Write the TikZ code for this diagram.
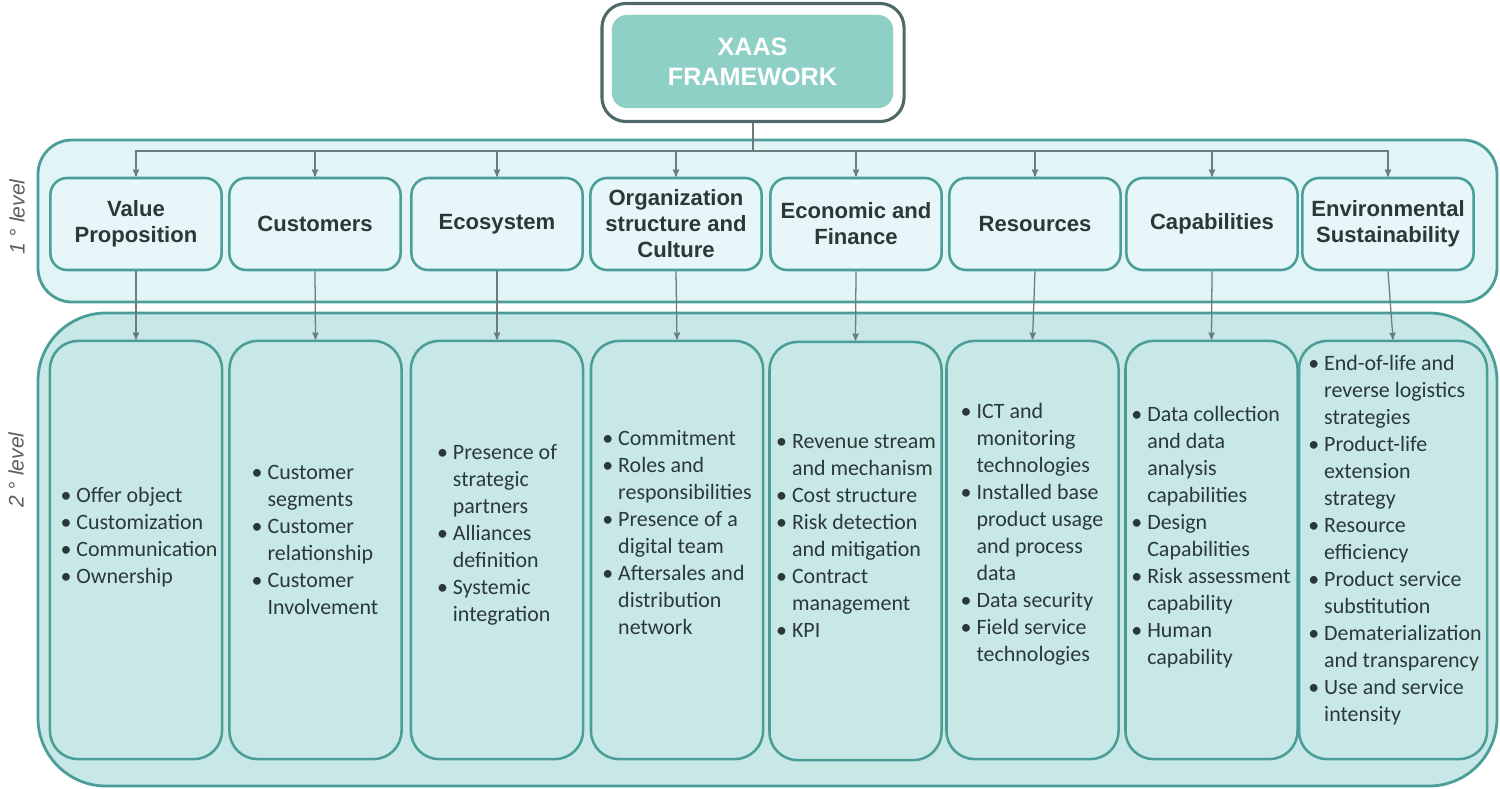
\documentclass[tikz,border=0pt]{standalone}
\usepackage{fontspec}
\setmainfont{Carlito}
\newfontfamily\headfont{Liberation Sans}
\usepackage{xcolor}
\usepackage{tikz}
\usetikzlibrary{arrows,positioning}

\definecolor{tealline}{HTML}{4A9E97}
\definecolor{slateline}{HTML}{4F6968}
\definecolor{headfill}{HTML}{8ECFC6}
\definecolor{lvlonefill}{HTML}{E3F4F7}
\definecolor{boxonefill}{HTML}{E7F6F9}
\definecolor{lvltwofill}{HTML}{C8E8E7}
\definecolor{arrowgray}{HTML}{6B7C7C}
\definecolor{inkdark}{HTML}{2A3838}
\definecolor{labelgray}{HTML}{5C5F5F}

\newcommand{\bul}{\textbullet\ }
\newcommand{\ctd}{\phantom{\textbullet\ }}

\begin{document}
\begin{tikzpicture}[x=0.025cm,y=-0.025cm,>=stealth',
	frame/.style={draw=tealline,line width=2pt},
	head/.style={draw=tealline,line width=1.8pt,fill=boxonefill,rounded corners=0.42cm,minimum width=4.28cm,minimum height=2.3cm,inner sep=0pt,align=center,text=inkdark,font=\headfont\bfseries\fontsize{15.7}{18.5}\selectfont},
	leaf/.style={draw=tealline,line width=1.8pt,fill=lvltwofill,rounded corners=0.7cm,minimum width=4.3cm,minimum height=10.45cm,inner sep=0pt},
	items/.style={align=left,inner sep=0pt,text=inkdark,font=\fontsize{15.6}{19.2}\selectfont},
	link/.style={->,draw=arrowgray,line width=0.9pt},
	lvl/.style={rotate=90,text=labelgray,font=\headfont\itshape\fontsize{15}{17}\selectfont}]
	\useasboundingbox (0,0) rectangle (1500,789);

	% level containers
	\draw[frame,fill=lvlonefill,rounded corners=0.85cm] (38,140) rectangle (1497,302);
	\draw[frame,fill=lvltwofill,rounded corners=1.7cm] (38,313) rectangle (1497,786);
	\node [lvl] (one) at (17,217) {1 ° level};
	\node [lvl] (two) at (16,470) {2 ° level};

	% top
	\node [draw=slateline,line width=2.2pt,fill=white,rounded corners=0.6cm,minimum width=7.55cm,minimum height=2.95cm] at (753,62.5) (frame) {};
	\node [fill=headfill,rounded corners=0.38cm,minimum width=7.03cm,minimum height=2.33cm,align=center,text=white,font=\headfont\bfseries\fontsize{17.9}{21.3}\selectfont] at (752.5,61.5) (xaas) {XAAS\\FRAMEWORK};
	\coordinate (bus) at (753,151);

	% 1st level
	\node [head] at (136,224) (h1) {Value\\Proposition};
	\node [head] at (315,224) (h2) {Customers};
	\node [head] at (497,224) (h3) {Ecosystem};
	\node [head] at (676,224) (h4) {Organization\\structure and\\Culture};
	\node [head] at (856,224) (h5) {Economic and\\Finance};
	\node [head] at (1035,224) (h6) {Resources};
	\node [head] at (1212,224) (h7) {Capabilities};
	\node [head] at (1388,224) (h8) {Environmental\\Sustainability};

	% 2nd level
	\node [leaf] at (136,550) (d1) {};
	\node [leaf] at (315.5,550) (d2) {};
	\node [leaf] at (497,550) (d3) {};
	\node [leaf] at (677,550) (d4) {};
	\node [leaf] at (855.5,551) (d5) {};
	\node [leaf] at (1032.5,550) (d6) {};
	\node [leaf] at (1211.5,550) (d7) {};
	\node [leaf,minimum width=4.7cm] at (1393,550) (d8) {};

	\node [items] at (139,537) (t1) {\bul Offer object\\ \bul Customization\\ \bul Communication\\ \bul Ownership};
	\node [items] at (315,540) (t2) {\bul Customer\\ \ctd segments\\ \bul Customer\\ \ctd relationship\\ \bul Customer\\ \ctd Involvement};
	\node [items] at (497,535) (t3) {\bul Presence of\\ \ctd strategic\\ \ctd partners\\ \bul Alliances\\ \ctd definition\\ \bul Systemic\\ \ctd integration};
	\node [items] at (677,533) (t4) {\bul Commitment\\ \bul Roles and\\ \ctd responsibilities\\ \bul Presence of a\\ \ctd digital team\\ \bul Aftersales and\\ \ctd distribution\\ \ctd network};
	\node [items] at (856,536) (t5) {\bul Revenue stream\\ \ctd and mechanism\\ \bul Cost structure\\ \bul Risk detection\\ \ctd and mitigation\\ \bul Contract\\ \ctd management\\ \bul KPI};
	\node [items] at (1032,534) (t6) {\bul ICT and\\ \ctd monitoring\\ \ctd technologies\\ \bul Installed base\\ \ctd product usage\\ \ctd and process\\ \ctd data\\ \bul Data security\\ \bul Field service\\ \ctd technologies};
	\node [items] at (1211,537) (t7) {\bul Data collection\\ \ctd and data\\ \ctd analysis\\ \ctd capabilities\\ \bul Design\\ \ctd Capabilities\\ \bul Risk assessment\\ \ctd capability\\ \bul Human\\ \ctd capability};
	\node [items] at (1395,540) (t8) {\bul End-of-life and\\ \ctd reverse logistics\\ \ctd strategies\\ \bul Product-life\\ \ctd extension\\ \ctd strategy\\ \bul Resource\\ \ctd efficiency\\ \bul Product service\\ \ctd substitution\\ \bul Dematerialization\\ \ctd and transparency\\ \bul Use and service\\ \ctd intensity};

	% connectors
	\foreach \i in {1,...,8}
		\draw [link] (frame.south) -- (bus) -| (h\i.north);
	\foreach \i in {1,...,8}
		\draw [link] (h\i.south) -- (d\i.north);
\end{tikzpicture}
\end{document}
